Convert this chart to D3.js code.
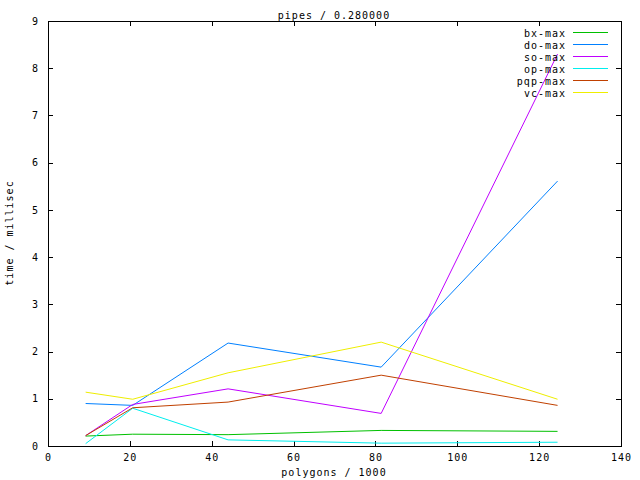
<!DOCTYPE html>
<html>
<head>
<meta charset="utf-8">
<script src="https://cdn.jsdelivr.net/npm/d3@7"></script>
<style>
  html, body { margin: 0; padding: 0; background: #fff; }
  svg { display: block; }
  text { font-family: "DejaVu Sans Mono", "Liberation Mono", monospace; font-size: 10px; letter-spacing: 1px; fill: #000; }
</style>
</head>
<body>
<svg id="chart" width="640" height="480"></svg>
<script>
const title = "pipes / 0.280000";
const xLabel = "polygons / 1000";
const yLabel = "time / millisec";
const polygons = [9.2, 20.7, 44.0, 81.4, 124.5];
const seriesNames = ["bx-max", "do-max", "so-max", "op-max", "pqp-max", "vc-max"];
const seriesColors = ["#00c000", "#0080ff", "#c000ff", "#00eeee", "#c04000", "#eeee00"];
const bxMax  = [0.21, 0.25, 0.24, 0.33, 0.31];
const doMax  = [0.90, 0.86, 2.18, 1.67, 5.61];
const soMax  = [0.22, 0.88, 1.21, 0.69, 8.30];
const opMax  = [0.05, 0.80, 0.13, 0.06, 0.08];
const pqpMax = [0.22, 0.81, 0.93, 1.50, 0.86];
const vcMax  = [1.14, 0.99, 1.55, 2.20, 0.99];
const xTicks = [0, 20, 40, 60, 80, 100, 120, 140];
const yTicks = [0, 1, 2, 3, 4, 5, 6, 7, 8, 9];

const seriesValues = [bxMax, doMax, soMax, opMax, pqpMax, vcMax];

const mLeft = 48, mRight = 621, mTop = 21, mBottom = 446;
const svg = d3.select("#chart");
const x = d3.scaleLinear().domain([0, 140]).range([mLeft, mRight]);
const y = d3.scaleLinear().domain([0, 9]).range([mBottom, mTop]);
const tl = 5;

const gx = svg.append("g").attr("transform", `translate(0,${mBottom})`)
  .call(d3.axisBottom(x).tickValues(xTicks).tickSizeInner(-tl).tickSizeOuter(0).tickPadding(8));
const gx2 = svg.append("g").attr("transform", `translate(0,${mTop})`)
  .call(d3.axisTop(x).tickValues(xTicks).tickSizeInner(-tl).tickSizeOuter(0).tickFormat(""));
const gy = svg.append("g").attr("transform", `translate(${mLeft},0)`)
  .call(d3.axisLeft(y).tickValues(yTicks).tickSizeInner(-tl).tickSizeOuter(0).tickPadding(9));
const gy2 = svg.append("g").attr("transform", `translate(${mRight},0)`)
  .call(d3.axisRight(y).tickValues(yTicks).tickSizeInner(-tl).tickSizeOuter(0).tickFormat(""));
[gx, gx2, gy, gy2].forEach(g => {
  g.select(".domain").remove();
  g.selectAll("line").attr("stroke", "#000").attr("shape-rendering", "crispEdges");
  g.selectAll("text").attr("font-family", null).attr("font-size", null).style("fill", "#000");
});
svg.append("rect").attr("x", mLeft + 0.5).attr("y", mTop + 0.5)
  .attr("width", mRight - mLeft).attr("height", mBottom - mTop)
  .attr("fill", "none").attr("stroke", "#000").attr("shape-rendering", "crispEdges");

svg.append("text").attr("x", 334).attr("y", 19).attr("text-anchor", "middle").text(title);
svg.append("text").attr("x", 334).attr("y", 476).attr("text-anchor", "middle").text(xLabel);
svg.append("text").attr("transform", "translate(13,233) rotate(-90)").attr("text-anchor", "middle").text(yLabel);

const line = d3.line().x((d, i) => x(polygons[i])).y(d => y(d));
seriesValues.forEach((vals, k) => {
  svg.append("path").datum(vals)
    .attr("d", line).attr("fill", "none")
    .attr("stroke", seriesColors[k]).attr("stroke-width", 1);
});

seriesNames.forEach((name, k) => {
  const ly = 32.5 + k * 12;
  svg.append("text").attr("x", 566).attr("y", ly + 4).attr("text-anchor", "end").text(name);
  svg.append("line").attr("x1", 573).attr("x2", 608).attr("y1", ly).attr("y2", ly)
    .attr("stroke", seriesColors[k]).attr("stroke-width", 1).attr("shape-rendering", "crispEdges");
});
</script>
</body>
</html>
